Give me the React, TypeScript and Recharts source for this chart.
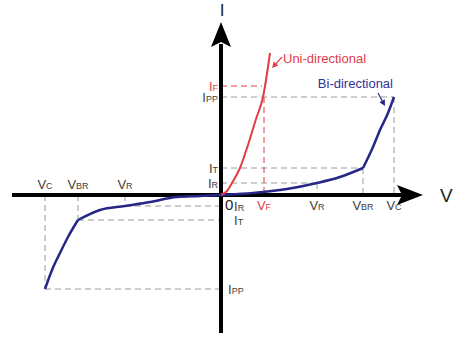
import React from "react";
import { LineChart, Line, XAxis, YAxis, ReferenceLine, ReferenceDot } from "recharts";

// I-V curves (arbitrary units: V to the right, I up)
const uniV = [0, 0.6, 1.1, 1.9, 2.7, 3.5, 4.2, 4.9];
const uniI = [0, 0.4, 1.2, 2.7, 5.0, 7.6, 9.8, 14.2];

const biRevV = [-17.6, -16.9, -16.1, -15.3, -14.3];
const biRevI = [-9.4, -7.5, -5.8, -4.2, -2.5];
const biLowV = [-14.3, -12.1, -9.6, -7.1, -4.4, -2.1, 0, 3.2, 6.6, 9.6, 11.9, 14.2];
const biLowI = [-2.5, -1.5, -1.1, -0.7, -0.2, -0.1, 0, 0.2, 0.6, 1.2, 1.8, 2.7];
const biFwdV = [14.2, 15.2, 15.9, 16.7, 17.3];
const biFwdI = [2.7, 4.8, 6.5, 8.2, 9.8];

// marked points: VR/IR, VBR/IT, VC/IPP
const vSubs = ["R", "BR", "C"];
const iSubs = ["R", "T", "PP"];
const posV = [9.6, 14.2, 17.3];
const posI = [1.2, 2.7, 9.8];
const negV = [-9.6, -14.3, -17.6];
const negI = [-1.1, -2.5, -9.4];

// forward (uni-directional) marks
const VF = 4.3;
const IF = 10.9;

const X_DOMAIN = [-22.1, 23.2];
const Y_DOMAIN = [-14.2, 19.5];
const X_AXIS = [-20.9, 18.6, 20.2]; // start, line end, arrow tip
const Y_AXIS = [-13.8, 15.1, 17.3];

const FONT = "'Liberation Sans', Arial, sans-serif";
const GRAY = "#9a9a9a";
const TEXT = "#404040";
const RED = "#e23b45";
const BLUE = "#262688";

const pts = (vs: number[], is: number[]) => vs.map((v, k) => ({ v, i: is[k] }));

function Sub({ x, y, main, sub, anchor = "middle", color = TEXT }: any) {
  return (
    <text x={x} y={y} textAnchor={anchor} fill={color} fontFamily={FONT} fontSize={13}>
      <tspan>{main}</tspan>
      <tspan fontSize={9}>{sub}</tspan>
    </text>
  );
}

function pointer(x1: number, y1: number, x2: number, y2: number, color: string) {
  const a = Math.atan2(y2 - y1, x2 - x1);
  const len = 6;
  const w = 3;
  const bx = x2 - len * Math.cos(a);
  const by = y2 - len * Math.sin(a);
  const px = -Math.sin(a) * w;
  const py = Math.cos(a) * w;
  return (
    <g>
      <line x1={x1} y1={y1} x2={bx} y2={by} stroke={color} strokeWidth={1.2} />
      <polygon points={`${x2},${y2} ${bx + px},${by + py} ${bx - px},${by - py}`} fill={color} />
    </g>
  );
}

const dash = { stroke: GRAY, strokeWidth: 1, strokeDasharray: "6 4" };
const redDash = { stroke: RED, strokeWidth: 1, strokeDasharray: "6 4" };
const curve = { dataKey: "i", type: "monotone" as const, dot: false, activeDot: false, isAnimationActive: false };

export default function App() {
  return (
    <div style={{ position: "absolute", left: 0, top: 0, background: "#fff" }}>
      <LineChart width={453} height={337} margin={{ top: 0, right: 0, bottom: 0, left: 0 }}>
        <XAxis dataKey="v" type="number" domain={X_DOMAIN} allowDataOverflow hide />
        <YAxis dataKey="i" type="number" domain={Y_DOMAIN} allowDataOverflow hide />

        {/* guide lines, first quadrant */}
        {posV.map((v, k) => (
          <ReferenceLine key={"ph" + k} segment={[{ x: 0, y: posI[k] }, { x: v, y: posI[k] }]} {...dash} />
        ))}
        {posV.map((v, k) => (
          <ReferenceLine key={"pv" + k} segment={[{ x: v, y: posI[k] }, { x: v, y: 0 }]} {...dash} />
        ))}
        {/* guide lines, third quadrant */}
        {negV.map((v, k) => (
          <ReferenceLine key={"nh" + k} segment={[{ x: v, y: negI[k] }, { x: 0, y: negI[k] }]} {...dash} />
        ))}
        {negV.map((v, k) => (
          <ReferenceLine key={"nv" + k} segment={[{ x: v, y: 0 }, { x: v, y: negI[k] }]} {...dash} />
        ))}
        <ReferenceLine segment={[{ x: 0, y: IF }, { x: VF - 0.2, y: IF }]} {...redDash} />
        <ReferenceLine segment={[{ x: VF, y: posI[2] }, { x: VF, y: 0 }]} {...redDash} />

        {/* axes */}
        <ReferenceLine segment={[{ x: X_AXIS[0], y: 0 }, { x: X_AXIS[1], y: 0 }]} stroke="#000" strokeWidth={4} />
        <ReferenceLine segment={[{ x: 0, y: Y_AXIS[0] }, { x: 0, y: Y_AXIS[1] }]} stroke="#000" strokeWidth={4} />
        <ReferenceDot
          x={X_AXIS[2]}
          y={0}
          shape={({ cx, cy }: any) => (
            <g>
              <polygon points={`${cx},${cy} ${cx - 26},${cy - 10} ${cx - 21},${cy} ${cx - 26},${cy + 10}`} fill="#000" />
              <text x={cx + 17} y={cy + 7} fontFamily={FONT} fontSize={19} fill="#222">V</text>
            </g>
          )}
        />
        <ReferenceDot
          x={0}
          y={Y_AXIS[2]}
          shape={({ cx, cy }: any) => (
            <g>
              <polygon points={`${cx},${cy} ${cx + 10},${cy + 25} ${cx},${cy + 20} ${cx - 10},${cy + 25}`} fill="#000" />
              <text x={cx + 1} y={cy - 6} textAnchor="middle" fontFamily={FONT} fontSize={17} fill="#222">I</text>
            </g>
          )}
        />

        {/* curves */}
        <Line data={pts(biRevV, biRevI)} {...curve} stroke={BLUE} strokeWidth={2.5} />
        <Line data={pts(biLowV, biLowI)} {...curve} stroke={BLUE} strokeWidth={2.5} />
        <Line data={pts(biFwdV, biFwdI)} {...curve} stroke={BLUE} strokeWidth={2.5} />
        <Line data={pts(uniV, uniI)} {...curve} stroke={RED} strokeWidth={2} />

        {/* labels */}
        {posV.map((v, k) => (
          <ReferenceDot key={"pvl" + k} x={v} y={0} shape={({ cx, cy }: any) => <Sub x={cx} y={cy + 15} main="V" sub={vSubs[k]} />} />
        ))}
        {posI.map((i, k) => (
          <ReferenceDot key={"pil" + k} x={0} y={i} shape={({ cx, cy }: any) => <Sub x={cx - 3} y={cy + 5} main="I" sub={iSubs[k]} anchor="end" />} />
        ))}
        {negV.map((v, k) => (
          <ReferenceDot key={"nvl" + k} x={v} y={0} shape={({ cx, cy }: any) => <Sub x={cx} y={cy - 6} main="V" sub={vSubs[k]} />} />
        ))}
        {negI.map((i, k) => (
          <ReferenceDot
            key={"nil" + k}
            x={0}
            y={i}
            shape={({ cx, cy }: any) => <Sub x={cx + (k === 2 ? 7 : 13)} y={cy + 5} main="I" sub={iSubs[k]} anchor="start" />}
          />
        ))}
        <ReferenceDot x={VF} y={0} shape={({ cx, cy }: any) => <Sub x={cx} y={cy + 15} main="V" sub="F" color={RED} />} />
        <ReferenceDot x={0} y={IF} shape={({ cx, cy }: any) => <Sub x={cx - 3} y={cy + 5} main="I" sub="F" anchor="end" color={RED} />} />
        <ReferenceDot
          x={0}
          y={0}
          shape={({ cx, cy }: any) => (
            <text x={cx + 4} y={cy + 15} fontFamily={FONT} fontSize={15} fill="#222">0</text>
          )}
        />

        {/* series callouts */}
        <ReferenceDot
          x={uniV[uniV.length - 1]}
          y={uniI[uniI.length - 1]}
          shape={({ cx, cy }: any) => (
            <g>
              {pointer(cx + 12, cy + 4, cx + 2, cy + 15, RED)}
              <text x={cx + 13} y={cy + 10} fontFamily={FONT} fontSize={13} fill={RED}>Uni-directional</text>
            </g>
          )}
        />
        <ReferenceDot
          x={biFwdV[biFwdV.length - 1]}
          y={biFwdI[biFwdI.length - 1]}
          shape={({ cx, cy }: any) => (
            <g>
              {pointer(cx - 16, cy - 4, cx - 9, cy + 9, BLUE)}
              <text x={cx - 1} y={cy - 9} textAnchor="end" fontFamily={FONT} fontSize={13} fill="#33339a">Bi-directional</text>
            </g>
          )}
        />
      </LineChart>
    </div>
  );
}
